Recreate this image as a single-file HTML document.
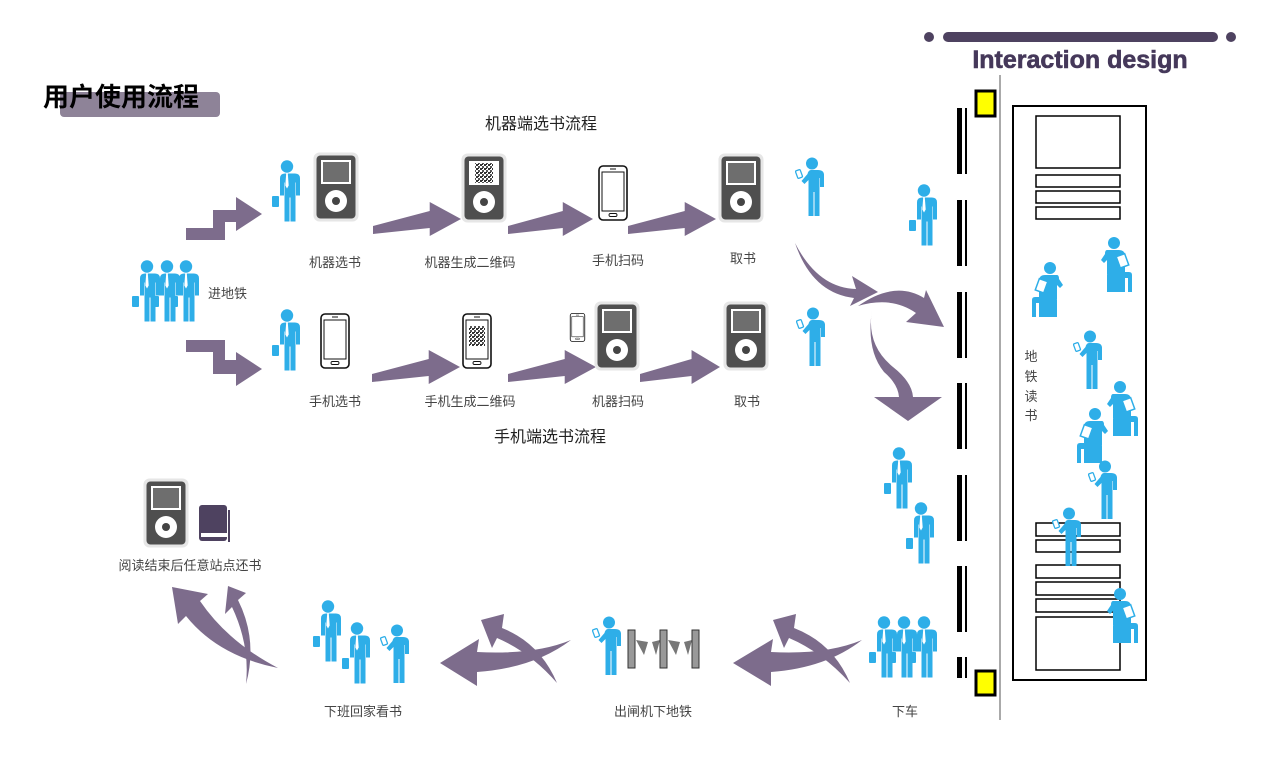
<!DOCTYPE html>
<html><head><meta charset="utf-8"><style>
html,body{margin:0;padding:0;background:#fff;}
body{width:1280px;height:776px;overflow:hidden;position:relative;font-family:"Liberation Sans","Noto Sans CJK SC",sans-serif;}
svg text{font-family:"Liberation Sans","Noto Sans CJK SC",sans-serif;}
</style></head><body>
<svg width="1280" height="776" viewBox="0 0 1280 776" xmlns="http://www.w3.org/2000/svg">
<defs>
<symbol id="bm" viewBox="0 0 28 62">
<g fill="#2eaee8">
<circle cx="15" cy="6.5" r="6.2"/>
<path d="M7,13.5 h16 q5,0 5,5 v17 h-4 v-13 h-0.5 v39 h-5 v-24 h-1 v24 h-5 v-39 h-0.5 v13 h-4 v-17 q0-5 5-5z"/>
<rect x="0" y="36" width="7" height="11" rx="1"/>
</g>
<path d="M14.2,13.5 h1.6 l0.9,12 l-1.7,3 l-1.7,-3z" fill="#fff"/>
</symbol>
<symbol id="pm" viewBox="0 0 30 60">
<g fill="#2eaee8">
<circle cx="17" cy="6.5" r="6"/>
<path d="M11,13 h12 q6,0 6,5 v12 h-4 v-9 h-0.5 v38 h-5 v-24 h-1 v24 h-5 v-36 l-4,4 l-3,-3 l6,-7 q1-4 3.5-4z"/>
</g>
<rect x="1.5" y="13" width="5" height="8" rx="1" fill="#fff" stroke="#2eaee8" stroke-width="1.3" transform="rotate(-20 4 17)"/>
</symbol>
<symbol id="sm" viewBox="0 0 34 56">
<g fill="#2eaee8">
<circle cx="15" cy="6" r="6"/>
<path d="M8,13 h12 q6,0 6,6 v16 h4 q3,0 3,3 v17 h-4 v-14 h-17 q-4,0 -4,-4 v-14 l-3,3 l-3,-3 l4,-6 q0-4 2-4z"/>
<rect x="8" y="38" width="18" height="17"/>
</g>
<rect x="19" y="18" width="9" height="12" fill="#fff" stroke="#2eaee8" stroke-width="1.5" transform="rotate(-20 23 24)"/>
</symbol>
<symbol id="ip" viewBox="0 0 46 70">
<rect x="0.5" y="0.5" width="45" height="69" rx="6" fill="#e6e6e6"/>
<rect x="3.5" y="3.5" width="39" height="63" rx="4" fill="#4f4f4f"/>
<rect x="8" y="8" width="30" height="24" fill="#fff"/>
<rect x="10" y="10" width="26" height="20" fill="#6e6e6e"/>
<circle cx="23" cy="49" r="11" fill="#fff"/>
<circle cx="23" cy="49" r="4" fill="#444"/>
</symbol>
<symbol id="ph" viewBox="0 0 30 56">
<rect x="1" y="1" width="28" height="54" rx="4" fill="#fff" stroke="#111" stroke-width="1.6"/>
<rect x="4" y="7" width="22" height="39" fill="#fff" stroke="#111" stroke-width="1"/>
<rect x="11" y="48.5" width="8" height="3" rx="1.5" fill="none" stroke="#111" stroke-width="0.9"/>
<line x1="12" y1="4" x2="18" y2="4" stroke="#111" stroke-width="1"/>
</symbol>
<pattern id="qr" width="4" height="4" patternUnits="userSpaceOnUse">
<rect width="4" height="4" fill="#fff"/><rect width="2" height="2" fill="#333"/><rect x="2" y="2" width="2" height="2" fill="#555"/><rect x="2" y="0" width="1" height="1" fill="#222"/>
</pattern>
<symbol id="ar" viewBox="0 0 90 34" preserveAspectRatio="none">
<polygon points="0,24 58,9 58,0 90,17 58,34 58,26 0,32" fill="#7d6c8c"/>
</symbol>
</defs>

<rect x="60" y="92" width="160" height="25" rx="4" fill="#8e8398"/>
<text x="43" y="106" font-size="26" font-weight="bold" fill="#000">用户使用流程</text>

<circle cx="929" cy="37" r="5" fill="#4e4260"/>
<circle cx="1231" cy="37" r="5" fill="#4e4260"/>
<rect x="943" y="32" width="275" height="10" rx="5" fill="#4e4260"/>
<text x="1080" y="68" font-size="25" font-weight="bold" fill="#45385a" text-anchor="middle" stroke="#45385a" stroke-width="0.6">Interaction design</text>

<text x="541" y="129" font-size="16" fill="#222" text-anchor="middle">机器端选书流程</text>
<text x="550" y="442" font-size="16" fill="#222" text-anchor="middle">手机端选书流程</text>

<use href="#bm" x="132" y="260" width="28" height="62"/>
<use href="#bm" x="152" y="260" width="28" height="62"/>
<use href="#bm" x="171" y="260" width="28" height="62"/>
<text x="208" y="298" font-size="13" fill="#444">进地铁</text>

<path d="M186,228 L213,228 L213,210 L236,210 L236,197 L262,214 L236,231 L236,222 L225,222 L225,240 L186,240 Z" fill="#7d6c8c"/>
<path d="M186,340 L225,340 L225,360 L236,360 L236,352 L262,369 L236,386 L236,374 L213,374 L213,352 L186,352 Z" fill="#7d6c8c"/>

<use href="#bm" x="272" y="160" width="28" height="62"/>
<use href="#ip" x="313" y="152" width="46" height="70"/>
<text x="335" y="267" font-size="13" fill="#444" text-anchor="middle">机器选书</text>
<use href="#ar" x="373" y="202" width="88" height="34"/>
<use href="#ip" x="461" y="153" width="46" height="70"/>
<rect x="470" y="161" width="28" height="24" fill="#fff"/>
<rect x="475" y="163" width="18" height="20" fill="url(#qr)"/>
<text x="470" y="267" font-size="13" fill="#444" text-anchor="middle">机器生成二维码</text>
<use href="#ar" x="508" y="202" width="85" height="34"/>
<use href="#ph" x="598" y="165" width="30" height="56"/>
<text x="618" y="265" font-size="13" fill="#444" text-anchor="middle">手机扫码</text>
<use href="#ar" x="628" y="202" width="88" height="34"/>
<use href="#ip" x="718" y="153" width="46" height="70"/>
<text x="743" y="263" font-size="13" fill="#444" text-anchor="middle">取书</text>
<use href="#pm" x="795" y="157" width="30" height="60"/>

<use href="#bm" x="272" y="309" width="28" height="62"/>
<use href="#ph" x="320" y="313" width="30" height="56"/>
<text x="335" y="406" font-size="13" fill="#444" text-anchor="middle">手机选书</text>
<use href="#ar" x="372" y="350" width="88" height="34"/>
<use href="#ph" x="462" y="313" width="30" height="56"/>
<rect x="469" y="326" width="16" height="20" fill="url(#qr)"/>
<text x="470" y="406" font-size="13" fill="#444" text-anchor="middle">手机生成二维码</text>
<use href="#ar" x="508" y="350" width="88" height="34"/>
<use href="#ph" x="569" y="313" width="17" height="29"/>
<use href="#ip" x="594" y="301" width="46" height="70"/>
<text x="618" y="406" font-size="13" fill="#444" text-anchor="middle">机器扫码</text>
<use href="#ar" x="640" y="350" width="80" height="34"/>
<use href="#ip" x="723" y="301" width="46" height="70"/>
<text x="747" y="406" font-size="13" fill="#444" text-anchor="middle">取书</text>
<use href="#pm" x="796" y="307" width="30" height="60"/>

<g fill="#7d6c8c">
<path d="M795,243 Q818,288 856,289 L852,276 L878,292 L850,306 L854,298 Q812,293 795,243 Z"/>
<path d="M858,306 Q895,280 924,298 L926,290 L944,327 L906,322 L916,313 Q892,296 858,306 Z"/>
<path d="M872,310 Q866,345 893,367 Q912,382 913,397 L942,397 L908,421 L874,397 L899,397 Q898,384 884,372 Q866,350 872,310 Z"/>
<path d="M733,663 L773,639 L771,652 Q826,655 862,640 Q826,668 771,672 L771,686 Z"/>
<path d="M773,620 L796,614 L794,628 Q833,643 850,683 Q822,652 789,638 L784,648 Z"/>
<path d="M440,663 L479,639 L477,652 Q535,655 571,640 Q534,668 477,672 L477,686 Z"/>
<path d="M481,620 L504,614 L502,628 Q540,643 557,683 Q530,652 497,638 L492,648 Z"/>
<path d="M172,587 L208,594 L200,601 Q228,642 278,668 Q218,656 186,616 L178,624 Z"/>
<path d="M228,586 L246,593 L238,600 Q258,640 246,684 Q250,645 232,607 L225,614 Z"/>
</g>

<use href="#bm" x="909" y="184" width="28" height="62"/>
<use href="#bm" x="884" y="447" width="28" height="62"/>
<use href="#bm" x="906" y="502" width="28" height="62"/>
<use href="#bm" x="869" y="616" width="28" height="62"/>
<use href="#bm" x="889" y="616" width="28" height="62"/>
<use href="#bm" x="909" y="616" width="28" height="62"/>
<text x="905" y="716" font-size="13" fill="#444" text-anchor="middle">下车</text>

<g fill="#000">
<rect x="957" y="108" width="5" height="66"/><rect x="965" y="108" width="2" height="66"/>
<rect x="957" y="200" width="5" height="66"/><rect x="965" y="200" width="2" height="66"/>
<rect x="957" y="292" width="5" height="66"/><rect x="965" y="292" width="2" height="66"/>
<rect x="957" y="383" width="5" height="66"/><rect x="965" y="383" width="2" height="66"/>
<rect x="957" y="475" width="5" height="66"/><rect x="965" y="475" width="2" height="66"/>
<rect x="957" y="566" width="5" height="66"/><rect x="965" y="566" width="2" height="66"/>
<rect x="957" y="657" width="5" height="21"/><rect x="965" y="657" width="2" height="21"/>
</g>
<rect x="976" y="91" width="19" height="25" fill="#ffff00" stroke="#000" stroke-width="3"/>
<rect x="976" y="671" width="19" height="24" fill="#ffff00" stroke="#000" stroke-width="3"/>
<rect x="999" y="75" width="2" height="645" fill="#aaa"/>

<rect x="1013" y="106" width="133" height="574" fill="#fff" stroke="#000" stroke-width="2"/>
<g fill="#fff" stroke="#000" stroke-width="1.5">
<rect x="1036" y="116" width="84" height="52"/>
<rect x="1036" y="175" width="84" height="12"/>
<rect x="1036" y="191" width="84" height="12"/>
<rect x="1036" y="207" width="84" height="12"/>
<rect x="1036" y="523" width="84" height="13"/>
<rect x="1036" y="540" width="84" height="12"/>
<rect x="1036" y="565" width="84" height="13"/>
<rect x="1036" y="582" width="84" height="13"/>
<rect x="1036" y="599" width="84" height="13"/>
<rect x="1036" y="617" width="84" height="53"/>
</g>
<g font-size="13" fill="#444" text-anchor="middle">
<text x="1031" y="361">地</text><text x="1031" y="381">铁</text><text x="1031" y="401">读</text><text x="1031" y="420">书</text>
</g>
<use href="#sm" x="1031" y="262" width="34" height="56" transform="translate(2096,0) scale(-1,1)"/>
<use href="#sm" x="1099" y="237" width="34" height="56"/>
<use href="#pm" x="1073" y="330" width="30" height="60"/>
<use href="#sm" x="1105" y="381" width="34" height="56"/>
<use href="#sm" x="1038" y="408" width="34" height="56" transform="translate(2148,0) scale(-1,1)"/>
<use href="#pm" x="1088" y="460" width="30" height="60"/>
<use href="#pm" x="1052" y="507" width="30" height="60"/>
<use href="#sm" x="1105" y="588" width="34" height="56"/>

<use href="#pm" x="592" y="616" width="30" height="60"/>
<g>
<rect x="628" y="630" width="7" height="38" fill="#999" stroke="#333" stroke-width="1"/>
<polygon points="636,640 648,642 644,655" fill="#777"/>
<polygon points="652,642 660,640 656,655" fill="#777"/>
<rect x="660" y="630" width="7" height="38" fill="#999" stroke="#333" stroke-width="1"/>
<polygon points="668,640 680,642 676,655" fill="#777"/>
<polygon points="684,642 692,640 688,655" fill="#777"/>
<rect x="692" y="630" width="7" height="38" fill="#999" stroke="#333" stroke-width="1"/>
</g>
<text x="653" y="716" font-size="13" fill="#444" text-anchor="middle">出闸机下地铁</text>

<use href="#bm" x="313" y="600" width="28" height="62"/>
<use href="#bm" x="342" y="622" width="28" height="62"/>
<use href="#pm" x="380" y="624" width="30" height="60"/>
<text x="363" y="716" font-size="13" fill="#444" text-anchor="middle">下班回家看书</text>

<use href="#ip" x="143" y="478" width="46" height="70"/>
<rect x="199" y="505" width="28" height="36" rx="3" fill="#4e4260"/>
<rect x="201" y="533" width="27" height="4" fill="#fff"/>
<rect x="228" y="510" width="2" height="32" fill="#4e4260"/>
<text x="190" y="570" font-size="13" fill="#444" text-anchor="middle">阅读结束后任意站点还书</text>
</svg>
</body></html>
